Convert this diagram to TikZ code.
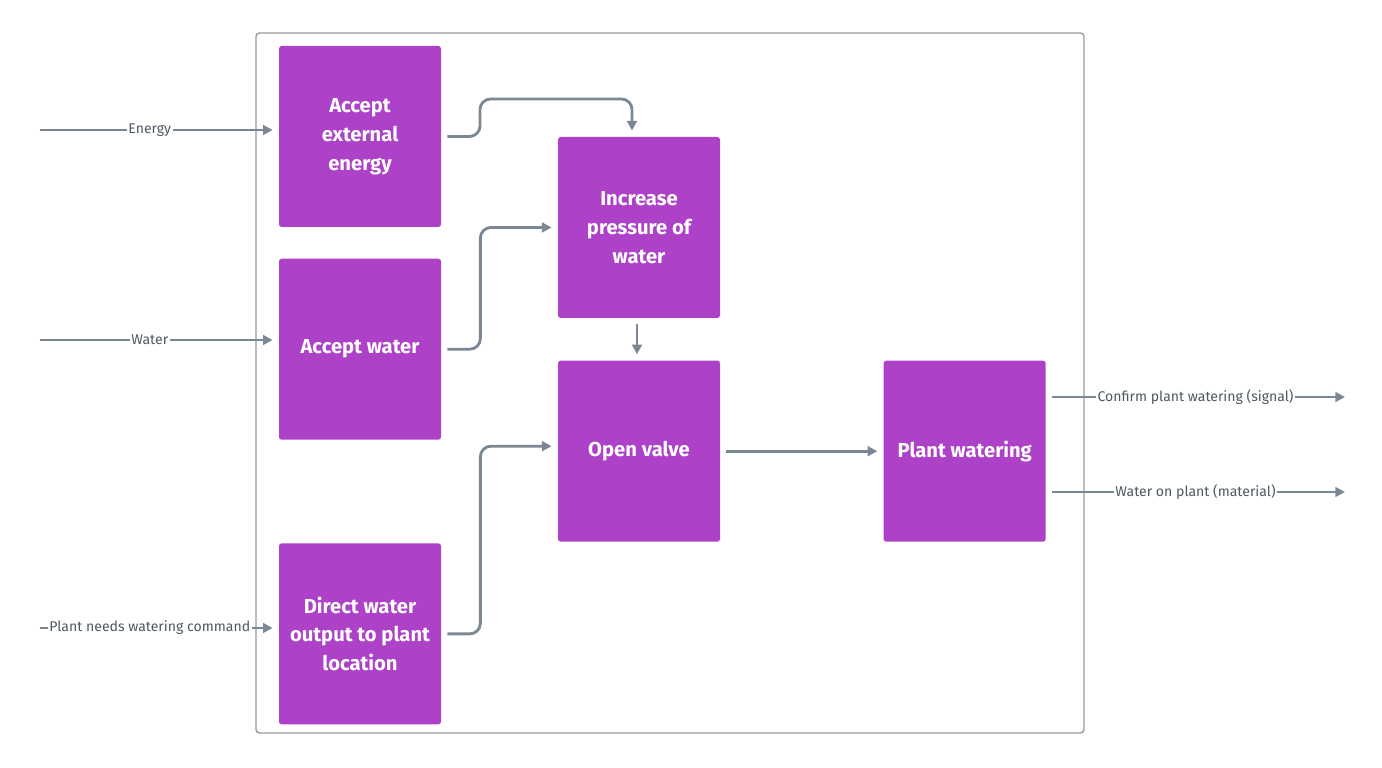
\documentclass[tikz,border=0pt]{standalone}
\usepackage{fontspec}
\setmainfont{Fira Sans}
\usepackage{xcolor}
\usepackage{tikz}
\usetikzlibrary{positioning,arrows.meta}
\definecolor{fnpurple}{HTML}{AD42C8}
\definecolor{wire}{HTML}{7B8794}
\definecolor{frame}{HTML}{939BA3}
\definecolor{labelgray}{HTML}{4E5964}
\tikzset{
    func/.style={rectangle, fill=fnpurple, rounded corners=1.5pt, minimum width=3.24cm, minimum height=3.62cm, align=center, font=\fontsize{11.5}{16.4}\selectfont\bfseries, text=white},
    sysframe/.style={draw=frame, line width=0.8pt, rounded corners=2pt},
    flow/.style={-{Triangle[length=5.5pt, width=5.5pt]}, line width=1.6pt, color=wire},
    flowlabel/.style={fill=white, inner sep=1pt, font=\fontsize{8}{9.5}\selectfont, text=labelgray}
}

\begin{document}
\begin{tikzpicture}
\useasboundingbox (0,0) rectangle (27.64,15.36);

% system boundary
\draw[sysframe] (5.12,0.7) rectangle (21.68,14.7);

% functions
\node[func] (energy) at (7.2,12.63) {Accept\\external\\energy};
\node[func, below=0.62cm of energy] (water) {Accept water};
\node[func, below=2.06cm of water] (direct) {Direct water\\output to plant\\location};
\node[func] (pressure) at (12.78,10.81) {Increase\\pressure of\\water};
\node[func, below=0.84cm of pressure] (valve) {Open valve};
\node[func, right=3.26cm of valve] (watering) {Plant watering};

% inputs and outputs
\coordinate (energy-in) at (0.8,12.76);
\coordinate (water-in) at (0.8,8.56);
\coordinate (command-in) at (0.8,2.8);
\coordinate (signal-out) at (26.9,7.42);
\coordinate (material-out) at (26.9,5.52);

\draw[flow, shorten >=3.4pt] (energy-in) -- node[flowlabel, pos=0.46] {Energy} (energy-in -| energy.west);
\draw[flow, shorten >=3.4pt] (water-in) -- node[flowlabel, pos=0.46] {Water} (water-in -| water.west);
\draw[flow, shorten >=3.4pt] (command-in) -- node[flowlabel, pos=0.46] {Plant needs watering command} (command-in -| direct.west);

\draw[flow, shorten <=3.4pt] (signal-out -| watering.east) -- node[flowlabel] {Confirm plant watering (signal)} (signal-out);
\draw[flow, shorten <=3.4pt] (material-out -| watering.east) -- node[flowlabel] {Water on plant (material)} (material-out);

% internal flows
\draw[flow, rounded corners=6pt] ([xshift=0.12cm]energy.east) -| (9.6,13.38) -| ([xshift=-0.14cm, yshift=0.12cm]pressure.north);
\draw[flow, rounded corners=6pt] ([xshift=0.12cm]water.east) -- ++(0.66,0) |- ([xshift=-0.12cm]pressure.west);
\draw[flow, rounded corners=6pt] ([xshift=0.12cm]direct.east) -- ++(0.66,0) |- ([xshift=-0.12cm, yshift=0.1cm]valve.west);
\draw[flow] ([xshift=-0.04cm, yshift=-0.12cm]pressure.south) -- ([xshift=-0.04cm, yshift=0.12cm]valve.north);
\draw[flow] ([xshift=0.12cm]valve.east) -- ([xshift=-0.12cm]watering.west);

\end{tikzpicture}
\end{document}
